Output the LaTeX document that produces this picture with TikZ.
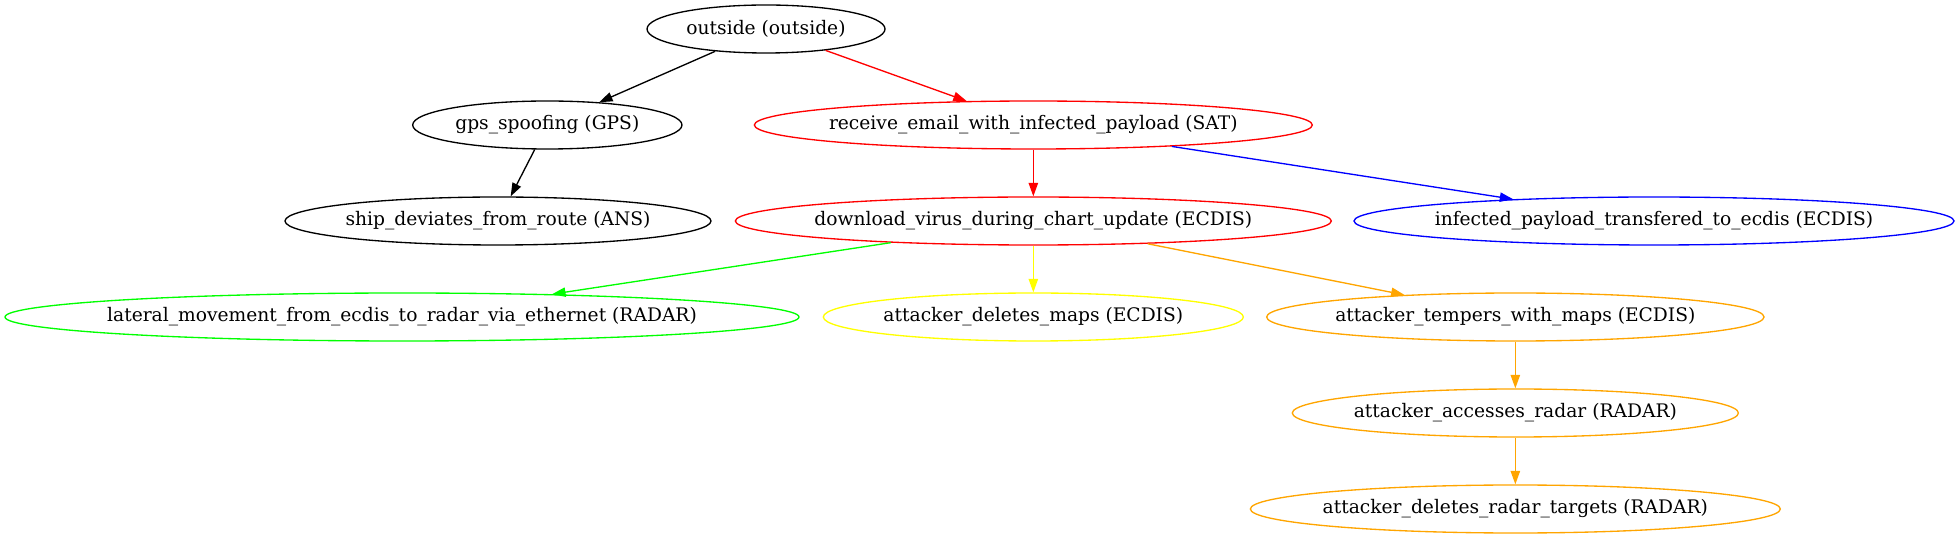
\documentclass[tikz,border=0pt]{standalone}
\usepackage{fontspec}
\setmainfont{DejaVu Serif}
\usetikzlibrary{shapes.geometric,arrows.meta}
\definecolor{gvgreen}{HTML}{00FF00}
\definecolor{gvyellow}{HTML}{FFFF00}
\definecolor{gvorange}{HTML}{FFA500}
\tikzset{
  stepE/.style ={ellipse, draw=#1, line width=1pt, inner xsep=-40pt, inner ysep=0pt,
                 minimum height=36pt, text=black, font=\fontsize{14}{16}\selectfont},
  flowS/.style ={#1, line width=1pt, -{Triangle[length=10pt,width=7pt]}},
}
\begin{document}
\begin{tikzpicture}[x=1pt,y=1pt]
  \useasboundingbox (0,0) rectangle (1469.25,404.25);
  % attack steps, one row per rank
  \node[stepE=black,    minimum width=178.5pt] (outside)    at (574.5,382.5)  {outside (outside)};
  \node[stepE=black,    minimum width=202pt]   (gps)        at (410.5,310.5)  {gps\_spoofing (GPS)};
  \node[stepE=red,      minimum width=418.5pt] (email)      at (775,310.5)    {receive\_email\_with\_infected\_payload (SAT)};
  \node[stepE=black,    minimum width=319.5pt] (ship)       at (373.5,238.5)  {ship\_deviates\_from\_route (ANS)};
  \node[stepE=red,      minimum width=447pt]   (virus)      at (775,238.5)    {download\_virus\_during\_chart\_update (ECDIS)};
  \node[stepE=blue,     minimum width=450pt]   (transfer)   at (1240.5,238.5) {infected\_payload\_transfered\_to\_ecdis (ECDIS)};
  \node[stepE=gvgreen,  minimum width=595.5pt] (lateral)    at (301.5,166.5)  {lateral\_movement\_from\_ecdis\_to\_radar\_via\_ethernet (RADAR)};
  \node[stepE=gvyellow, minimum width=315pt]   (delmaps)    at (775,166.5)    {attacker\_deletes\_maps (ECDIS)};
  \node[stepE=gvorange, minimum width=373pt]   (tempers)    at (1136.5,166.5) {attacker\_tempers\_with\_maps (ECDIS)};
  \node[stepE=gvorange, minimum width=334.5pt] (access)     at (1136.5,94.5)  {attacker\_accesses\_radar (RADAR)};
  \node[stepE=gvorange, minimum width=397.5pt] (deltargets) at (1136.5,22.5)  {attacker\_deletes\_radar\_targets (RADAR)};
  % transitions
  \draw[flowS=black]    (outside) -- (gps);
  \draw[flowS=red]      (outside) -- (email);
  \draw[flowS=black]    (gps) -- (ship);
  \draw[flowS=red]      (email) -- (virus);
  \draw[flowS=blue]     (email) -- (transfer);
  \draw[flowS=gvgreen]  (virus) -- (lateral);
  \draw[flowS=gvyellow] (virus) -- (delmaps);
  \draw[flowS=gvorange] (virus) -- (tempers);
  \draw[flowS=gvorange] (tempers) -- (access);
  \draw[flowS=gvorange] (access) -- (deltargets);
\end{tikzpicture}
\end{document}
